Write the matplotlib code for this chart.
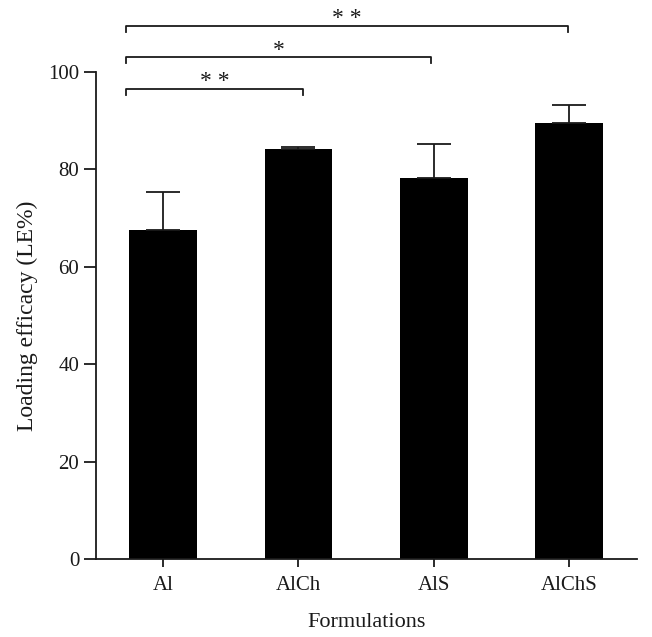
import matplotlib
matplotlib.use("Agg")
import matplotlib.pyplot as plt
import numpy as np

# data
formulations = ["Al", "AlCh", "AlS", "AlChS"]
loading_efficacy = [67.5, 84.1, 78.1, 89.5]
error_upper = [7.7, 0.5, 7.0, 3.6]

# significance brackets: (start x, end x, height, label)
sig_start = [-0.27, -0.27, -0.27]
sig_end = [1.03, 1.98, 2.99]
sig_height = [96.4, 102.9, 109.4]
sig_label = ["* *", "*", "* *"]

plt.rcParams["font.family"] = ["Liberation Serif", "DejaVu Serif"]
ink = "#1a1a1a"

fig = plt.figure(figsize=(6.52, 6.37), dpi=100)
ax = fig.add_axes([0.1472, 0.1224, 0.8298, 0.7652])

x = np.arange(len(formulations))
ax.bar(x, loading_efficacy, width=0.50, color="black")
ax.errorbar(x, loading_efficacy, yerr=[np.zeros(len(x)), error_upper],
            fmt="none", ecolor=ink, elinewidth=1.3, capsize=12.2, capthick=1.3)

# brackets with stars
for x0, x1, h, lab in zip(sig_start, sig_end, sig_height, sig_label):
    ax.plot([x0, x0, x1, x1], [h - 1.2, h, h, h - 1.2], color=ink,
            lw=1.3, clip_on=False)
    ax.text((x0 + x1) / 2, h + 1.5, lab, ha="center", va="center",
            fontsize=17, color=ink)

ax.set_xlim(-0.495, 3.50)
ax.set_ylim(0, 100)
ax.set_yticks([0, 20, 40, 60, 80, 100])
ax.set_xticks(x)
ax.set_xticklabels(formulations)

for side in ["top", "right"]:
    ax.spines[side].set_visible(False)
for side in ["left", "bottom"]:
    ax.spines[side].set_linewidth(1.3)
    ax.spines[side].set_color(ink)

ax.tick_params(axis="y", direction="out", length=9, width=1.3, labelsize=15,
               colors=ink, pad=3)
ax.tick_params(axis="x", direction="out", length=6, width=1.3, labelsize=15,
               colors=ink, pad=6)

ax.set_ylabel("Loading efficacy (LE%)", fontsize=17, color=ink, labelpad=7)
ax.set_xlabel("Formulations", fontsize=16, color=ink, labelpad=13)

plt.savefig("out.png", dpi=100)
